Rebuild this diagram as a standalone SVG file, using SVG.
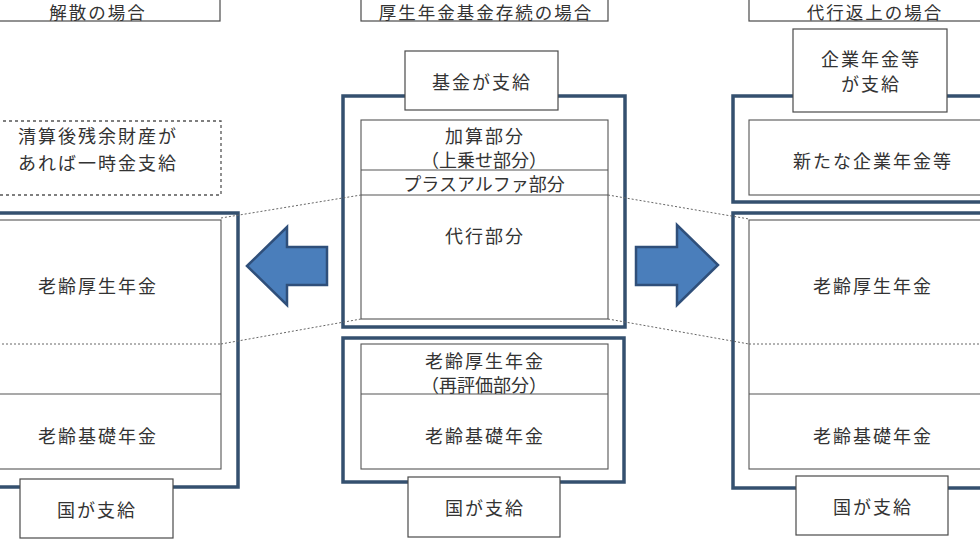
<svg xmlns="http://www.w3.org/2000/svg" width="980" height="540" viewBox="0 0 980 540">
<style>
text{font-family:"Noto Sans CJK JP","Noto Sans CJK SC",sans-serif;font-size:18px;fill:#333;text-anchor:middle;dominant-baseline:central;letter-spacing:2px}
.thin{fill:#fff;stroke:#4a4a4a;stroke-width:1.2}
.thick{fill:#fff;stroke:#34506f;stroke-width:3.5}
.in{fill:#fff;stroke:#555;stroke-width:1.1}
.sep{stroke:#555;stroke-width:1.1}
.dot{stroke:#666;stroke-width:1;stroke-dasharray:2 2;fill:none}
.dash{fill:#fff;stroke:#555;stroke-width:1.3;stroke-dasharray:3 3}
.arrow{fill:#4a7ebb;stroke:#2f4f7a;stroke-width:2.5;stroke-linejoin:miter}
.par{letter-spacing:0}
.ttl{font-size:17.5px}
</style>
<rect width="980" height="540" fill="#fff"/>

<!-- Left column -->
<g id="title-left"><rect class="thin" x="-26" y="-20" width="246" height="41"/><text class="ttl" x="98" y="11">解散の場合</text></g>
<g id="lump-sum"><rect class="dash" x="-27" y="121" width="248" height="74"/><text x="98" y="135">清算後残余財産が</text><text x="98" y="162">あれば一時金支給</text></g>
<g id="left-stack">
<rect class="thick" x="-44" y="213" width="282" height="274"/>
<rect class="in" x="-26" y="220" width="247" height="249"/>
<line class="sep" x1="-26" y1="394" x2="221" y2="394"/>
<line class="dot" x1="-26" y1="344" x2="221" y2="344"/>
<text x="98" y="285">老齢厚生年金</text>
<text x="98" y="435">老齢基礎年金</text>
</g>
<g id="left-state"><rect class="thin" x="20" y="479" width="153" height="59"/><text x="97" y="509">国が支給</text></g>

<!-- Center column -->
<g id="title-center"><rect class="thin" x="361" y="-20" width="247" height="41"/><text class="ttl" x="486" y="11">厚生年金基金存続の場合</text></g>
<g id="fund-stack">
<rect class="thick" x="343" y="96" width="282" height="231"/>
<rect class="in" x="361" y="120" width="247" height="199"/>
<line class="sep" x1="361" y1="170" x2="608" y2="170"/>
<line class="sep" x1="361" y1="195" x2="608" y2="195"/>
<text x="485" y="135">加算部分</text>
<text class="par" x="484" y="159">（上乗せ部分）</text>
<text class="par" x="484" y="183">プラスアルファ部分</text>
<text x="485" y="235">代行部分</text>
</g>
<g id="fund-pays"><rect class="thin" x="405" y="51" width="153" height="59"/><text x="482" y="81">基金が支給</text></g>
<g id="center-state-stack">
<rect class="thick" x="343" y="338" width="281" height="144"/>
<rect class="in" x="361" y="344" width="247" height="125"/>
<line class="sep" x1="361" y1="394" x2="608" y2="394"/>
<text x="485" y="360">老齢厚生年金</text>
<text class="par" x="484" y="384">（再評価部分）</text>
<text x="485" y="435">老齢基礎年金</text>
</g>
<g id="center-state"><rect class="thin" x="408" y="477" width="152" height="60"/><text x="485" y="507">国が支給</text></g>

<!-- Right column -->
<g id="title-right"><rect class="thin" x="749" y="-20" width="250" height="41"/><text class="ttl" x="875" y="11">代行返上の場合</text></g>
<g id="new-plan">
<rect class="thick" x="733" y="96" width="282" height="106"/>
<rect class="in" x="749" y="120" width="247" height="75"/>
<text x="873" y="160">新たな企業年金等</text>
</g>
<g id="corp-pays"><rect class="thin" x="793" y="29" width="154" height="83"/><text x="871" y="58">企業年金等</text><text x="871" y="83">が支給</text></g>
<g id="right-stack">
<rect class="thick" x="733" y="213" width="282" height="275"/>
<rect class="in" x="749" y="220" width="247" height="249"/>
<line class="sep" x1="749" y1="394" x2="996" y2="394"/>
<line class="dot" x1="749" y1="344" x2="996" y2="344"/>
<text x="873" y="285">老齢厚生年金</text>
<text x="873" y="435">老齢基礎年金</text>
</g>
<g id="right-state"><rect class="thin" x="796" y="476" width="152" height="59"/><text x="873" y="506">国が支給</text></g>

<!-- Arrows -->
<g id="arrow-left"><polygon class="arrow" points="247,266 287,227 287,247 327,247 327,285 287,285 287,305"/></g>
<g id="arrow-right"><polygon class="arrow" points="636,247 677,247 677,225 718,265 677,305 677,285 636,285"/></g>

<!-- Connectors -->
<g id="connectors">
<line class="dot" x1="221" y1="218" x2="361" y2="195"/>
<line class="dot" x1="221" y1="344" x2="361" y2="319"/>
<line class="dot" x1="608" y1="195" x2="749" y2="219"/>
<line class="dot" x1="608" y1="319" x2="749" y2="344"/>
</g>
</svg>
